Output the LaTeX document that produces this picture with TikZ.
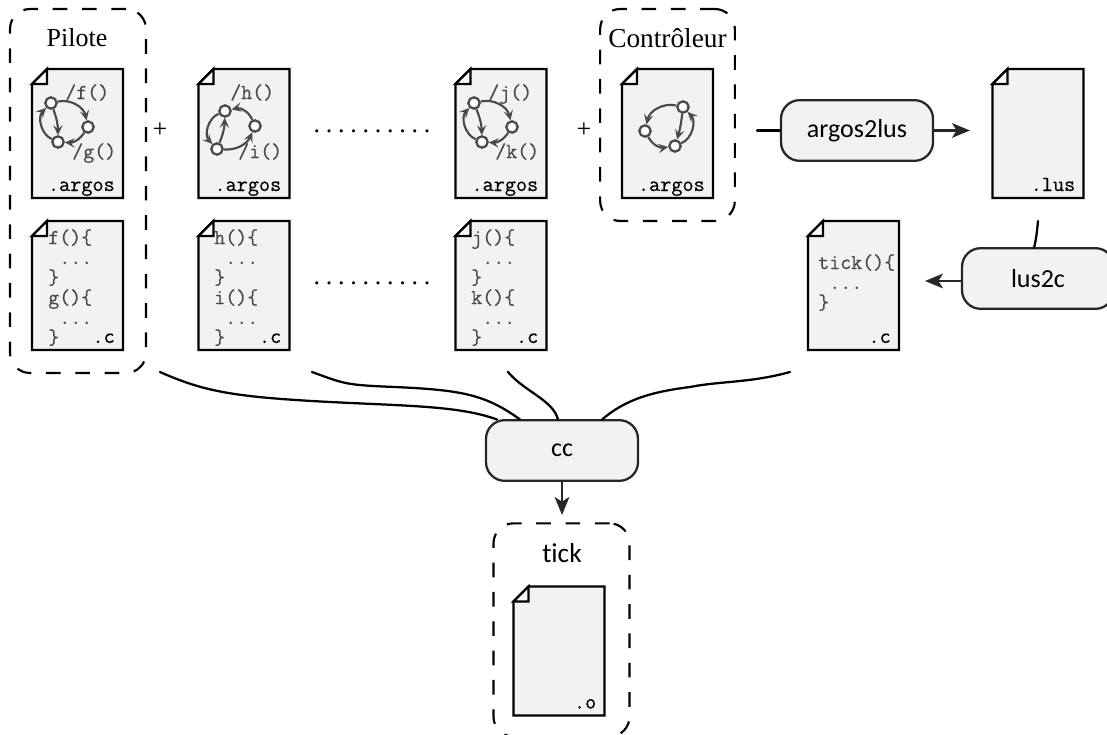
\documentclass[tikz,border=0pt]{standalone}
\usepackage{fontspec}
\setmainfont{Liberation Serif}
\setsansfont{Carlito}[Ligatures=NoCommon]
\setmonofont{Latin Modern Mono}[FakeBold=0.5]
\usetikzlibrary{arrows.meta, calc}
\definecolor{docfill}{HTML}{F2F2F2}
\definecolor{inkgray}{HTML}{4A4A4A}
\tikzset{
	docline/.style={draw=black, line width=1.7pt, line join=miter},
	exttext/.style={font=\ttfamily\fontsize{16.2}{15}\selectfont, inner sep=0pt, anchor=base east},
	codetext/.style={font=\ttfamily\fontsize{16}{15}\selectfont, text=inkgray, align=left, inner sep=0pt, anchor=north west},
	actiontext/.style={font=\ttfamily\fontsize{16}{15}\selectfont, text=inkgray, inner sep=0pt, anchor=base west},
	autstate/.style={circle, draw=inkgray, fill=white, line width=1.7pt, minimum size=8.5pt, inner sep=0pt},
	autedge/.style={draw=inkgray, line width=1.6pt, -{Stealth[length=7.5pt,width=7pt,inset=3pt]}},
	groupbox/.style={draw=black, line width=1.6pt, rounded corners=15pt, dash pattern=on 11pt off 11pt, inner sep=0pt},
	toolbox/.style={draw=black!85, fill=docfill, line width=1.7pt, rounded corners=14pt, minimum width=114pt, minimum height=45.5pt, inner sep=0pt, font=\sffamily\fontsize{19.5}{20}\selectfont},
	grouptitle/.style={font=\fontsize{19.5}{20}\selectfont, inner sep=0pt},
	flow/.style={draw=black!85, line width=1.7pt, -{Stealth[length=13.5pt,width=11pt,inset=3.5pt]}},
	feed/.style={draw=black, line width=1.7pt, line cap=round},
	dotrow/.style={font=\fontsize{19.5}{20}\selectfont, inner sep=0pt},
}
% name, left, top, extension
\newcommand{\docfile}[4]{%
	\begin{scope}[shift={(#2,#3)}]
		\path[docline, fill=docfill] (15,0) -- (91,0) -- (91,129) -- (0,129) -- (0,15) -- cycle;
		\path[docline, fill=white] (0,15) -- (15,0) -- (15,15) -- cycle;
		\node[exttext] (#1) at (83,122) {#4};
	\end{scope}}

\begin{document}
\begin{tikzpicture}[x=0.75pt, y=-0.75pt]
\clip (0,0) rectangle (1107,735);

%========================
% Groups
%========================
\node[groupbox, minimum width=102pt, minimum height=273pt] (pilote) at (78,191) {};
\node[grouptitle] (pilotetitle) at (77,38) {Pilote};
\node[groupbox, minimum width=101pt, minimum height=159pt] (controleur) at (667.5,115) {};
\node[grouptitle, font=\fontsize{20.5}{21}\selectfont] (controleurtitle) at (667.5,38) {Contrôleur};
\node[groupbox, minimum width=102pt, minimum height=160pt] (tick) at (561.5,630) {};
\node[font=\sffamily\fontsize{20.5}{21}\selectfont, inner sep=0pt] (ticktitle) at (562,553) {tick};

%========================
% Files
%========================
\docfile{argosf}{32}{69}{.argos}
\docfile{argosh}{198.5}{69}{.argos}
\docfile{argosj}{455.5}{69}{.argos}
\docfile{argosctl}{622}{69}{.argos}
\docfile{lusfile}{992.5}{69}{.lus}
\docfile{cf}{32}{221}{.c}
\docfile{ch}{198.5}{221}{.c}
\docfile{cj}{455.5}{221}{.c}
\docfile{ctick}{808}{221}{.c}
\docfile{objfile}{513.5}{586.5}{.o}

% actions
\node[actiontext] (actf) at (65,99) {/f()};
\node[actiontext] (actg) at (72,158) {/g()};
\node[actiontext] (acth) at (230,99) {/h()};
\node[actiontext] (acti) at (238,158) {/i()};
\node[actiontext] (actj) at (488,99) {/j()};
\node[actiontext] (actk) at (495,158) {/k()};

% code
\node[codetext] (codef) at (48,229) {f()\{\\\ ...\\\}\\g()\{\\\ ...\\\}};
\node[codetext] (codeh) at (214,229) {h()\{\\\ ...\\\}\\i()\{\\\ ...\\\}};
\node[codetext] (codej) at (471,229) {j()\{\\\ ...\\\}\\k()\{\\\ ...\\\}};
\node[codetext] (codetick) at (818,254) {tick()\{\\\ ...\\\}};

%========================
% Automata
%========================
\node[autstate] (fa) at (51,103) {};
\node[autstate] (fb) at (88,127) {};
\node[autstate] (fc) at (58,142) {};
\draw[autedge] (fa) to[bend left=45] (fb);
\draw[autedge] (fb) to[bend left=30] (fc);
\draw[autedge] (fa) to[bend left=10] (fc);
\draw[autedge] (fc) to[bend left=55] (fa);

\node[autstate] (ha) at (225,111) {};
\node[autstate] (hb) at (255,126) {};
\node[autstate] (hc) at (217,149) {};
\draw[autedge] (hb) to[bend right=40] (ha);
\draw[autedge] (hc) to[bend right=35] (hb);
\draw[autedge] (hc) to[bend right=10] (ha);
\draw[autedge] (ha) to[bend right=55] (hc);

\node[autstate] (ja) at (474,103) {};
\node[autstate] (jb) at (512,127) {};
\node[autstate] (jc) at (482,142) {};
\draw[autedge] (ja) to[bend left=45] (jb);
\draw[autedge] (jb) to[bend left=30] (jc);
\draw[autedge] (ja) to[bend left=10] (jc);
\draw[autedge] (jc) to[bend left=55] (ja);

\node[autstate] (ca) at (683,107) {};
\node[autstate] (cb) at (645,131) {};
\node[autstate] (cc) at (675,146) {};
\draw[autedge] (ca) to[bend right=45] (cb);
\draw[autedge] (cb) to[bend right=35] (cc);
\draw[autedge] (ca) to[bend left=5] (cc);
\draw[autedge] (cc) to[bend right=55] (ca);

%========================
% Separators
%========================
\node[grouptitle] (plusa) at (160,130) {+};
\node[grouptitle] (plusb) at (584,130) {+};
\node[dotrow] (dotsa) at (372,131) {\frenchspacing\spaceskip=4.3pt . . . . . . . . . .};
\node[dotrow] (dotsb) at (372,283) {\frenchspacing\spaceskip=4.3pt . . . . . . . . . .};

%========================
% Tools
%========================
\node[toolbox] (argostool) at (857,130.5) {argos2lus};
\node[toolbox] (lustool) at (1038,278.5) {lus2c};
\node[toolbox] (cctool) at (562,450.5) {cc};

\coordinate (argosin) at (757,130.5);
\coordinate (argosout) at (970,130.5);
\coordinate (lusin) at (1038,221);
\coordinate (lusout) at (925,281);
\coordinate (ccout) at (562,515);
\draw[feed] (argosin) -- (argostool.west);
\draw[flow] (argostool.east) -- (argosout);
\draw[feed] (lusin) .. controls (1037,232) and (1036,240) .. (1034,248);
\draw[flow] (lustool.west |- lusout) -- (lusout);
\draw[flow] (cctool.south) -- (ccout);

%========================
% Feeds into cc
%========================
\coordinate (feeda) at (160,372);
\coordinate (feedb) at (312,372);
\coordinate (feedc) at (508,372);
\coordinate (feedd) at (790,372);
\coordinate (cca) at (497,419.5);
\coordinate (ccb) at (520,419.5);
\coordinate (ccc) at (558,419.5);
\coordinate (ccd) at (602,419.5);
\draw[feed] (feeda) .. controls (205,392) and (235,397) .. (330,402) .. controls (410,406) and (460,406) .. (cca);
\draw[feed] (feedb) .. controls (345,384) and (345,385) .. (395,387) .. controls (460,390) and (485,394) .. (ccb);
\draw[feed] (feedc) .. controls (525,392) and (553,400) .. (ccc);
\draw[feed] (feedd) .. controls (750,383) and (720,381) .. (690,387) .. controls (650,392) and (625,400) .. (ccd);

\end{tikzpicture}
\end{document}
